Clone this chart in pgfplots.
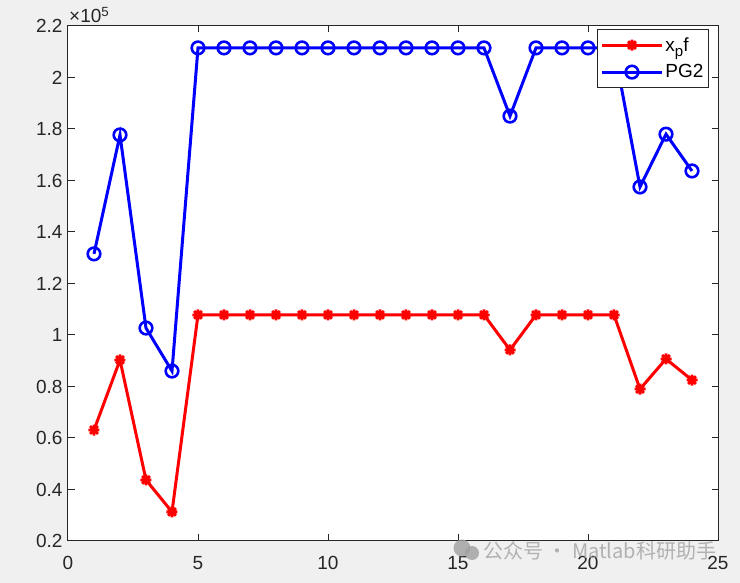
\documentclass[border=0pt]{standalone}
\usepackage{fontspec}
\setmainfont{Liberation Sans}
\newfontfamily\cjk{Noto Sans CJK SC}
\usepackage{pgfplots}
\pgfplotsset{compat=1.18}
\definecolor{figbg}{RGB}{240,240,240}
\definecolor{axc}{RGB}{38,38,38}
\definecolor{mred}{RGB}{255,0,0}
\definecolor{mblue}{RGB}{0,0,255}
\pgfdeclareplotmark{mstar}{%
 \pgfpathmoveto{\pgfqpoint{-\pgfplotmarksize}{0pt}}\pgfpathlineto{\pgfqpoint{\pgfplotmarksize}{0pt}}%
 \pgfpathmoveto{\pgfqpoint{0pt}{-\pgfplotmarksize}}\pgfpathlineto{\pgfqpoint{0pt}{\pgfplotmarksize}}%
 \pgfpathmoveto{\pgfqpoint{-0.707\pgfplotmarksize}{-0.707\pgfplotmarksize}}\pgfpathlineto{\pgfqpoint{0.707\pgfplotmarksize}{0.707\pgfplotmarksize}}%
 \pgfpathmoveto{\pgfqpoint{-0.707\pgfplotmarksize}{0.707\pgfplotmarksize}}\pgfpathlineto{\pgfqpoint{0.707\pgfplotmarksize}{-0.707\pgfplotmarksize}}%
 \pgfusepathqstroke}
\pgfplotsset{myleg/.style={legend image code/.code={\draw[##1, mark repeat=2, mark phase=2] plot coordinates {(0pt,0pt) (30pt,0pt) (60pt,0pt)};}}}
\begin{document}
\begin{tikzpicture}
\fill[figbg] (-68pt,-42pt) rectangle (672pt,541pt);
\begin{axis}[
  at={(0pt,0pt)}, anchor=south west,
  scale only axis, width=650pt, height=515pt,
  xmin=0, xmax=25, ymin=0.2, ymax=2.2,
  axis background/.style={fill=white},
  axis line style={axc, line width=1pt},
  tick style={axc, line width=1pt},
  tick align=inside, major tick length=6.5pt,
  xtick={0,5,10,15,20,25},
  xticklabels={0,5,10,15,20,25},
  ytick={0.2,0.4,0.6,0.8,1.0,1.2,1.4,1.6,1.8,2.0,2.2},
  yticklabels={0.2,0.4,0.6,0.8,1,1.2,1.4,1.6,1.8,2,2.2},
  tick label style={font=\fontsize{19}{22}\selectfont, text=axc},
  xticklabel style={yshift=-12pt},
  yticklabel style={xshift=-2pt},
  legend style={at={(axis description cs:0.986,0.994)}, anchor=north east,
    draw=axc, line width=0.8pt, fill=white,
    font=\fontsize{19}{22}\selectfont, text=black,
    inner xsep=3pt, inner ysep=6pt, row sep=8pt},
  legend cell align=left,
]
\addplot[mred, line width=3pt, mark=mstar, mark size=5.5pt, mark options={line width=2.8pt}, myleg]
coordinates {
(1,0.631) (2,0.903) (3,0.437) (4,0.313) (5,1.078) (6,1.078) (7,1.078) (8,1.078)
(9,1.078) (10,1.078) (11,1.078) (12,1.078) (13,1.078) (14,1.078) (15,1.078) (16,1.078)
(17,0.942) (18,1.078) (19,1.078) (20,1.078) (21,1.078) (22,0.790) (23,0.907) (24,0.825)
};
\addlegendentry{x\raisebox{-5pt}{\fontsize{15}{15}\selectfont p}f}
\addplot[mblue, line width=3pt, mark=o, mark size=6.3pt, mark options={line width=2.6pt}, myleg]
coordinates {
(1,1.315) (2,1.777) (3,1.027) (4,0.860) (5,2.115) (6,2.115) (7,2.115) (8,2.115)
(9,2.115) (10,2.115) (11,2.115) (12,2.115) (13,2.115) (14,2.115) (15,2.115) (16,2.115)
(17,1.850) (18,2.115) (19,2.115) (20,2.115) (21,2.115) (22,1.575) (23,1.780) (24,1.637)
};
\addlegendentry{PG2}
\end{axis}
\node[anchor=south west, inner sep=0pt, text=axc, font=\fontsize{19}{22}\selectfont] at (1pt,518pt) {×10\textsuperscript{5}};
\fill[gray!75, opacity=0.8] (394pt,-7pt) circle (8.5pt);
\fill[gray!75, opacity=0.8] (404pt,-12pt) circle (7pt);
\node[anchor=west, inner sep=0pt, text=gray!70, opacity=0.85, font=\cjk\fontsize{20}{22}\selectfont] at (415pt,-10pt) {公众号 · Matlab科研助手};
\end{tikzpicture}
\end{document}
